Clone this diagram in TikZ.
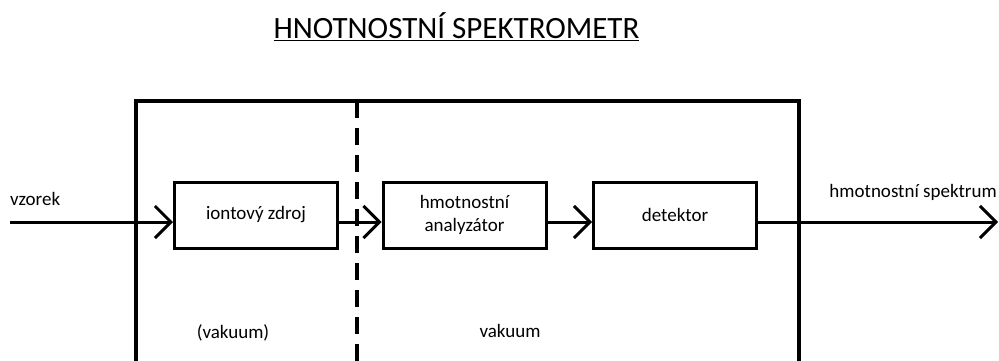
\documentclass[tikz,border=0pt]{standalone}
\usepackage{fontspec}
\setmainfont{Carlito}
\usetikzlibrary{arrows.meta}

\begin{document}
\begin{tikzpicture}[x=1pt,y=1pt,
  blok/.style={draw=black, line width=3pt, minimum width=163pt, minimum height=66pt, inner sep=0pt, font=\fontsize{19}{23}\selectfont, align=center},
  tok/.style={line width=3pt, -{Straight Barb[length=16pt, width=32pt]}},
  popis/.style={font=\fontsize{19}{23}\selectfont, inner sep=0pt}]
\useasboundingbox (0,0) rectangle (999,360);
\node[font=\fontsize{31}{36}\selectfont, inner sep=0pt] (nadpis) at (456.5,333) {\underline{HNOTNOSTNÍ SPEKTROMETR}};
% komora
\draw[line width=3.5pt] (136,-5) -- (136,259) -- (799,259) -- (799,-5);
\draw[line width=3.5pt, dash pattern=on 17pt off 10pt] (357,259) -- (357,-5);
% bloky
\node[blok] (zdroj) at (256,145) {iontový zdroj};
\node[blok] (analyzator) at (464.5,145) {hmotnostní\\analyzátor};
\node[blok] (detektor) at (675,145) {detektor};
\coordinate (vstup) at (10,138);
\coordinate (vystup) at (998,138);
% toky
\draw[tok] (vstup) -- (vstup -| zdroj.west);
\draw[tok] (vstup -| zdroj.east) -- (vstup -| analyzator.west);
\draw[tok] (vstup -| analyzator.east) -- (vstup -| detektor.west);
\draw[tok] (vstup -| detektor.east) -- (vystup);
% popisky
\node[popis, anchor=west] (vzorek) at (10,161) {vzorek};
\node[popis, anchor=east] (spektrum) at (997,168) {hmotnostní spektrum};
\node[popis] (vakuumL) at (233,27) {(vakuum)};
\node[popis] (vakuumR) at (510,29) {vakuum};
\end{tikzpicture}
\end{document}
